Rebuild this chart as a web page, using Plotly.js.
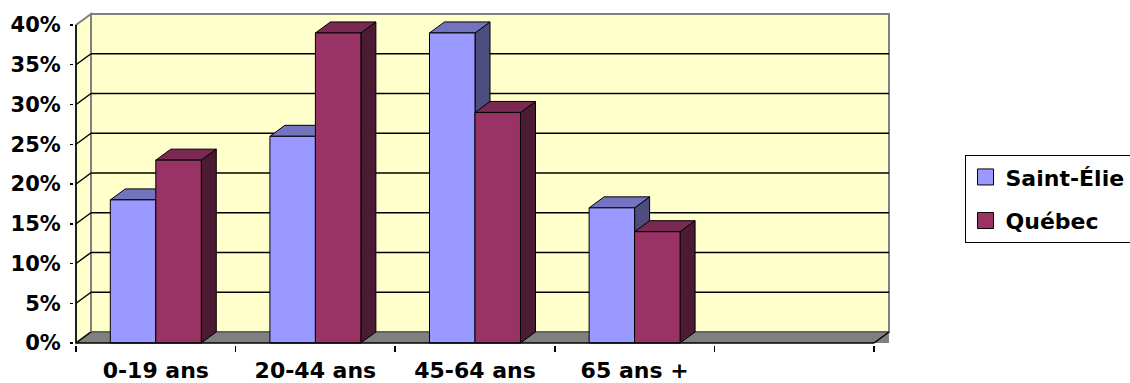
<!DOCTYPE html>
<html>
<head>
<meta charset="utf-8">
<script src="https://cdn.plot.ly/plotly-3.0.1.min.js"></script>
<style>html,body{margin:0;padding:0;background:#fff;}#chart{width:1130px;height:383px;}</style>
</head>
<body>
<div id="chart"></div>
<script>
// ---- data ----
const categories = ['0-19 ans', '20-44 ans', '45-64 ans', '65 ans +'];
const seriesNames = ['Saint-Élie', 'Québec'];
const saintElie = [18, 26, 39, 17];
const quebec = [23, 39, 29, 14];
const yTicks = [0, 5, 10, 15, 20, 25, 30, 35, 40];

// ---- geometry / style ----
const slots = 5;                 // 4 categories + one empty slot
const DX = 0.094, DY = 1.384;    // 3D depth offset (axis units)
const BW = 0.285;                // bar width
const FONT = 'DejaVu Sans, Verdana, Arial, sans-serif';
const colors = {
  se: {front: '#9999FF', top: '#7373BF', side: '#4D4D80'},
  qc: {front: '#993366', top: '#7A2952', side: '#4D1A33'}
};

function faces(values, off) {
  const f = {front: {x: [], y: []}, top: {x: [], y: []}, side: {x: [], y: []}};
  values.forEach((v, i) => {
    const x0 = i + off, x1 = x0 + BW;
    f.front.x.push(x0, x1, x1, x0, x0, null);
    f.front.y.push(0, 0, v, v, 0, null);
    f.top.x.push(x0, x1, x1 + DX, x0 + DX, x0, null);
    f.top.y.push(v, v, v + DY, v + DY, v, null);
    f.side.x.push(x1, x1 + DX, x1 + DX, x1, x1, null);
    f.side.y.push(0, DY, v + DY, v, 0, null);
  });
  return f;
}
function polyTrace(p, fill) {
  return {type: 'scatter', mode: 'lines', x: p.x, y: p.y, fill: 'toself',
          fillcolor: fill, line: {color: '#000', width: 1}, hoverinfo: 'skip',
          showlegend: false};
}
const fs = faces(saintElie, -BW), fq = faces(quebec, 0);
const traces = [
  polyTrace(fs.side, colors.se.side), polyTrace(fs.top, colors.se.top), polyTrace(fs.front, colors.se.front),
  polyTrace(fq.side, colors.qc.side), polyTrace(fq.top, colors.qc.top), polyTrace(fq.front, colors.qc.front),
  {type: 'scatter', mode: 'markers', x: [null], y: [null], name: seriesNames[0], legendgroup: 'a',
   marker: {symbol: 'square', size: 16, color: colors.se.front, line: {color: '#000', width: 1}}},
  {type: 'scatter', mode: 'markers', x: [null], y: [null], name: seriesNames[1], legendgroup: 'b',
   marker: {symbol: 'square', size: 16, color: colors.qc.front, line: {color: '#000', width: 1}}}
];

const XL = -0.5, XR = slots - 0.5, YT = yTicks[yTicks.length - 1];
const shapes = [];
// back wall
shapes.push({type: 'rect', layer: 'below', xref: 'x', yref: 'y', x0: XL + DX, x1: XR + DX, y0: DY, y1: YT + DY,
  fillcolor: '#FFFFCC', line: {color: '#808080', width: 2}});
// left side wall
shapes.push({type: 'path', layer: 'below', xref: 'x', yref: 'y',
  path: `M${XL},0 L${XL},${YT} L${XL + DX},${YT + DY} L${XL + DX},${DY} Z`,
  fillcolor: '#FFFFCC', line: {color: '#808080', width: 2}});
// floor
shapes.push({type: 'path', layer: 'below', xref: 'x', yref: 'y',
  path: `M${XL},0 L${XR + DX},0 L${XR + DX},${DY} L${XL + DX},${DY} Z`,
  fillcolor: '#808080', line: {width: 0}});
shapes.push({type: 'line', layer: 'below', xref: 'x', yref: 'y', x0: XL + DX, x1: XR + DX, y0: DY, y1: DY,
  line: {color: '#5A5A5A', width: 1.5}});
// gridlines on back wall + side wall diagonals
yTicks.forEach(t => {
  if (t > 0 && t < YT) {
    shapes.push({type: 'line', layer: 'below', xref: 'x', yref: 'y', x0: XL + DX, x1: XR + DX, y0: t + DY, y1: t + DY,
      line: {color: '#000', width: 1.5}});
  }
  if (t < YT) {
    shapes.push({type: 'line', layer: 'below', xref: 'x', yref: 'y', x0: XL, x1: XL + DX, y0: t, y1: t + DY,
      line: {color: '#000', width: 1.5}});
  }
});
// front axis lines
shapes.push({type: 'line', xref: 'x', yref: 'y', x0: XL, x1: XL, y0: 0, y1: YT, line: {color: '#000', width: 1.5}});
shapes.push({type: 'line', xref: 'x', yref: 'y', x0: XL, x1: XR, y0: 0, y1: 0, line: {color: '#000', width: 1.5}});
shapes.push({type: 'line', xref: 'x', yref: 'y', x0: XR, x1: XR + DX, y0: 0, y1: DY, line: {color: '#000', width: 1.5}});

const boundaries = [];
for (let i = 0; i <= slots; i++) boundaries.push(i - 0.5);

const layout = {
  width: 1130, height: 383,
  margin: {l: 74, r: 239, t: 12, b: 38, autoexpand: false},
  paper_bgcolor: '#fff', plot_bgcolor: 'rgba(0,0,0,0)',
  font: {family: FONT, color: '#000'},
  showlegend: true,
  legend: {x: 1.09, xanchor: 'left', y: 0.438, yanchor: 'middle', bgcolor: '#fff',
           bordercolor: '#000', borderwidth: 1, traceorder: 'grouped', tracegroupgap: 12,
           font: {family: FONT, size: 22, weight: 'bold', color: '#000'}},
  xaxis: {range: [XL - 0.0125, XR + DX + 0.0125], tickmode: 'array',
          tickvals: categories.map((c, i) => i), ticktext: categories,
          showgrid: false, zeroline: false, showline: false, ticks: '', ticklabelstandoff: 10,
          tickfont: {family: FONT, size: 22, weight: 'bold', color: '#000'}, fixedrange: true},
  xaxis2: {overlaying: 'x', anchor: 'y', side: 'bottom', range: [XL - 0.0125, XR + DX + 0.0125],
           tickmode: 'array', tickvals: boundaries, showticklabels: false, ticks: 'outside',
           ticklen: 6, tickcolor: '#000', tickwidth: 1.5, showgrid: false, zeroline: false, showline: false},
  yaxis: {range: [-0.25, YT + DY + 0.25], tickmode: 'array', tickvals: yTicks,
          ticktext: yTicks.map(t => t + '%'), ticks: 'outside', ticklen: 3, tickcolor: '#000',
          tickwidth: 1.5, showgrid: false, zeroline: false, showline: false, ticklabelstandoff: 5,
          tickfont: {family: FONT, size: 21, weight: 'bold', color: '#000'}, fixedrange: true},
  shapes: shapes
};
// dummy trace to activate xaxis2
traces.push({type: 'scatter', x: [null], y: [null], xaxis: 'x2', yaxis: 'y', showlegend: false, hoverinfo: 'skip'});

Plotly.newPlot('chart', traces, layout, {staticPlot: true});
</script>
</body>
</html>
